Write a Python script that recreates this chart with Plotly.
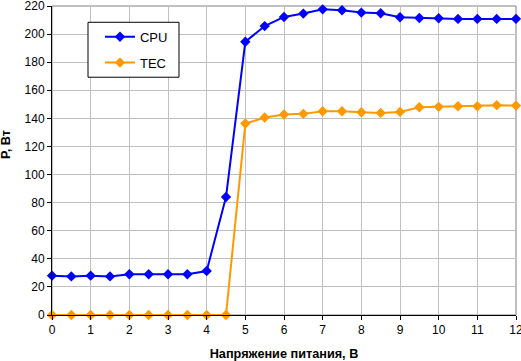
import plotly.graph_objects as go

voltage = [0, 0.5, 1, 1.5, 2, 2.5, 3, 3.5, 4, 4.5, 5, 5.5, 6, 6.5, 7, 7.5, 8, 8.5, 9, 9.5, 10, 10.5, 11, 11.5, 12]
cpu = [28, 27.5, 28, 27.5, 29, 29, 29, 29, 31.3, 84, 194.5, 205.7, 212.2, 214.6, 217.6, 217, 215.3, 214.8, 212, 211.5, 211.3, 210.8, 210.8, 210.8, 210.8]
tec = [0, 0, 0, 0, 0, 0, 0, 0, 0, 0, 136.3, 140.6, 142.7, 143.2, 145.1, 145.1, 144.4, 143.9, 144.6, 147.9, 148.2, 148.6, 148.6, 149.4, 149.1]

x_ticks = list(range(0, 13))
y_ticks = list(range(0, 221, 20))

FAM = "Liberation Sans, Arial, sans-serif"

fig = go.Figure()
fig.add_trace(go.Scatter(x=voltage, y=cpu, name="CPU", mode="lines+markers",
                         line=dict(color="#0000FF", width=2),
                         marker=dict(symbol="diamond", size=8, color="#0000FF"),
                         legendgroup="a", cliponaxis=False))
fig.add_trace(go.Scatter(x=voltage, y=tec, name="TEC", mode="lines+markers",
                         line=dict(color="#FF9900", width=2),
                         marker=dict(symbol="diamond", size=8, color="#FF9900"),
                         legendgroup="b", cliponaxis=False))

fig.update_layout(
    width=521, height=361,
    margin=dict(l=52, r=5, t=6, b=46),
    paper_bgcolor="white", plot_bgcolor="white",
    font=dict(family=FAM, size=12, color="black"),
    showlegend=True,
    legend=dict(x=0.1034, y=0.949, xanchor="left", yanchor="top",
                bgcolor="rgba(0,0,0,0)", borderwidth=0,
                font=dict(family=FAM, size=13),
                traceorder="grouped", tracegroupgap=6, itemwidth=30),
    xaxis=dict(range=[0, 12], tickvals=x_ticks, showgrid=True, gridcolor="#C0C0C0", gridwidth=1,
               showline=True, linecolor="black", linewidth=1, ticks="outside", ticklen=4,
               tickcolor="black", zeroline=False, automargin=False, ticklabeloverflow="allow",
               title=dict(text="<b>Напряжение питания, В</b>", standoff=12,
                          font=dict(family=FAM, size=12.7))),
    yaxis=dict(range=[0, 220], tickvals=y_ticks, showgrid=True, gridcolor="#C0C0C0", gridwidth=1,
               showline=True, linecolor="black", linewidth=1, ticks="outside", ticklen=4,
               tickcolor="black", zeroline=False, automargin=False, ticklabeloverflow="allow"),
    annotations=[dict(text="<b>P, Вт</b>", textangle=-90, xref="paper", yref="paper",
                      x=0, xshift=-46, y=0.55, xanchor="center", yanchor="middle",
                      showarrow=False, font=dict(family=FAM, size=12.7))],
    shapes=[dict(type="rect", xref="paper", yref="paper", x0=0, y0=0, x1=1, y1=1,
                 line=dict(color="#808080", width=1), layer="below"),
            dict(type="rect", xref="paper", yref="paper", x0=0.0776, x1=0.2737, y0=0.7695, y1=0.9473,
                 line=dict(color="black", width=1), fillcolor="white", layer="above")],
)

fig.write_html("out.html", config={"displayModeBar": False},
               post_script="document.body.style.margin='0';document.body.style.overflow='hidden';")
